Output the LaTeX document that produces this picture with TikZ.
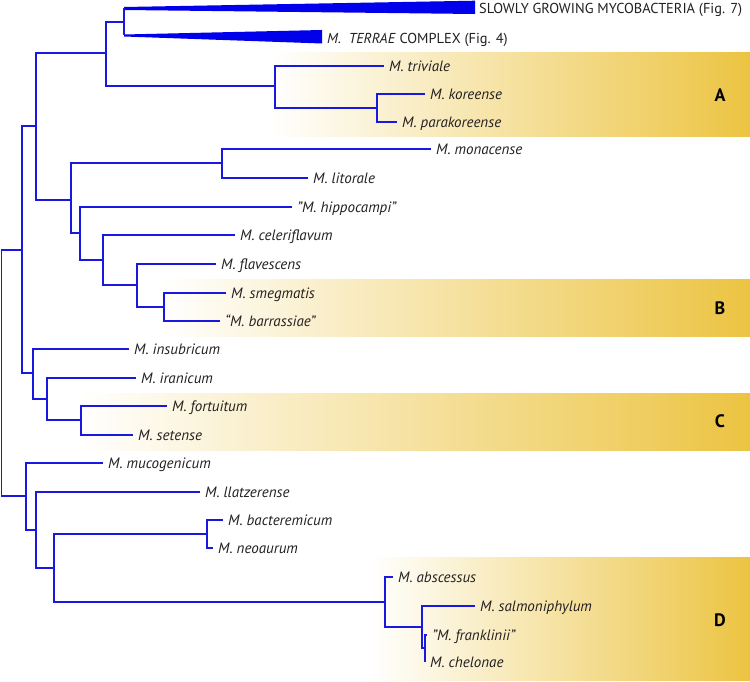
\documentclass[tikz,border=0pt]{standalone}
\usepackage{fontspec}
\setmainfont{PT Sans}
\usepackage{tikz}
\usepackage{xcolor}
\definecolor{treeblue}{RGB}{24,24,224}
\definecolor{cladegold}{RGB}{236,196,66}
\definecolor{labelgray}{RGB}{35,31,32}

\begin{document}
\begin{tikzpicture}[x=1pt, y=-1pt,
    branch/.style={draw=treeblue, line width=1.7pt},
    taxon/.style={anchor=west, inner xsep=5pt, inner ysep=0pt, text height=10.5pt, text depth=0pt, text=labelgray, font=\fontsize{15}{17}\selectfont\itshape},
    group/.style={anchor=west, inner sep=0pt, text height=10pt, text depth=0pt, text=labelgray, font=\fontsize{14.4}{17}\selectfont},
    cladelabel/.style={text=black, font=\fontsize{18}{21}\selectfont\bfseries}]
    \useasboundingbox (0,0) rectangle (750,682);

    \shade[left color=white, right color=cladegold] (270,53) rectangle (750,137);
    \shade[left color=white, right color=cladegold] (160,279) rectangle (750,336);
    \shade[left color=white, right color=cladegold] (78,393) rectangle (750,450);
    \shade[left color=white, right color=cladegold] (370,557) rectangle (750,680);

    \node (labA) [cladelabel] at (720,95) {A};
    \node (labB) [cladelabel] at (720,308) {B};
    \node (labC) [cladelabel] at (720,421) {C};
    \node (labD) [cladelabel] at (720,620) {D};

    \coordinate (root) at (1.5,373);
    \coordinate (fast) at (22,250);
    \coordinate (upper) at (36,126);
    \coordinate (slowgrp) at (106,53);
    \coordinate (slowtips) at (124,22);
    \coordinate (slowtip) at (124,8.5);
    \coordinate (terraetip) at (124,35.5);
    \coordinate (cladeA) at (275,86);
    \coordinate (kor) at (377,108);
    \coordinate (mid) at (71,200);
    \coordinate (mon) at (222,163);
    \coordinate (hip) at (80,233);
    \coordinate (cel) at (103,260);
    \coordinate (fla) at (137,285);
    \coordinate (cladeB) at (164,307);
    \coordinate (ins) at (33,373);
    \coordinate (ira) at (47,399);
    \coordinate (cladeC) at (81,420);
    \coordinate (lower) at (26,496);
    \coordinate (lla) at (36,530);
    \coordinate (neo) at (54,568);
    \coordinate (bac) at (207,534);
    \coordinate (cladeD) at (385,602);
    \coordinate (sal) at (422,627);
    \coordinate (che) at (425,648);

    \fill[blue!92!black] (slowtip) ++(0,-1.5) -- (475,0.7) -- (475,14) -- (124,10) -- cycle;
    \fill[blue!92!black] (terraetip) ++(0,-1) -- (322,30) -- (322,43.5) -- (124,36.5) -- cycle;
    \node (slow) [group] at (479,8.5) {SLOWLY GROWING MYCOBACTERIA (Fig. 7)};
    \node (terrae) [group] at (327,39) {\textit{M.\ \ TERRAE} COMPLEX (Fig. 4)};

    \node (triviale) [taxon] at (384,66) {M. triviale};
    \node (koreense) [taxon] at (425,94) {M. koreense};
    \node (parakoreense) [taxon] at (397,122) {M. parakoreense};
    \node (monacense) [taxon] at (431,149) {M. monacense};
    \node (litorale) [taxon] at (308,178) {M. litorale};
    \node (hippocampi) [taxon] at (292,207) {"M. hippocampi"};
    \node (celeriflavum) [taxon] at (235,235) {M. celeriflavum};
    \node (flavescens) [taxon] at (216,264) {M. flavescens};
    \node (smegmatis) [taxon] at (226,293) {M. smegmatis};
    \node (barrassiae) [taxon] at (220,321) {“M. barrassiae”};
    \node (insubricum) [taxon] at (129,349) {M. insubricum};
    \node (iranicum) [taxon] at (136,378) {M. iranicum};
    \node (fortuitum) [taxon] at (167,406) {M. fortuitum};
    \node (setense) [taxon] at (133,435) {M. setense};
    \node (mucogenicum) [taxon] at (103,463) {M. mucogenicum};
    \node (llatzerense) [taxon] at (200,492) {M. llatzerense};
    \node (bacteremicum) [taxon] at (223,520) {M. bacteremicum};
    \node (neoaurum) [taxon] at (213,548) {M. neoaurum};
    \node (abscessus) [taxon] at (393,577) {M. abscessus};
    \node (salmoniphylum) [taxon] at (475,606) {M. salmoniphylum};
    \node (franklinii) [taxon] at (427,635) {"M. franklinii"};
    \node (chelonae) [taxon] at (425,662) {M. chelonae};

    \draw[branch] (root) |- (fast) (root) |- (lower);
    \draw[branch] (fast) |- (upper) (fast) |- (ins);
    \draw[branch] (upper) |- (slowgrp) (upper) |- (mid);
    \draw[branch] (slowgrp) |- (slowtips) (slowgrp) |- (cladeA);
    \draw[branch] (slowtips) -- (slowtip) (slowtips) -- (terraetip);
    \draw[branch] (cladeA) |- (triviale.west) (cladeA) |- (kor);
    \draw[branch] (kor) |- (koreense.west) (kor) |- (parakoreense.west);
    \draw[branch] (mid) |- (mon) (mid) |- (hip);
    \draw[branch] (mon) |- (monacense.west) (mon) |- (litorale.west);
    \draw[branch] (hip) |- (hippocampi.west) (hip) |- (cel);
    \draw[branch] (cel) |- (celeriflavum.west) (cel) |- (fla);
    \draw[branch] (fla) |- (flavescens.west) (fla) |- (cladeB);
    \draw[branch] (cladeB) |- (smegmatis.west) (cladeB) |- (barrassiae.west);
    \draw[branch] (ins) |- (insubricum.west) (ins) |- (ira);
    \draw[branch] (ira) |- (iranicum.west) (ira) |- (cladeC);
    \draw[branch] (cladeC) |- (fortuitum.west) (cladeC) |- (setense.west);
    \draw[branch] (lower) |- (mucogenicum.west) (lower) |- (lla);
    \draw[branch] (lla) |- (llatzerense.west) (lla) |- (neo);
    \draw[branch] (neo) |- (bac) (neo) |- (cladeD);
    \draw[branch] (bac) |- (bacteremicum.west) (bac) |- (neoaurum.west);
    \draw[branch] (cladeD) |- (abscessus.west) (cladeD) |- (sal);
    \draw[branch] (sal) |- (salmoniphylum.west) (sal) |- (che);
    \draw[branch] (che) |- (franklinii.west) (che) |- (chelonae.west);
\end{tikzpicture}
\end{document}
